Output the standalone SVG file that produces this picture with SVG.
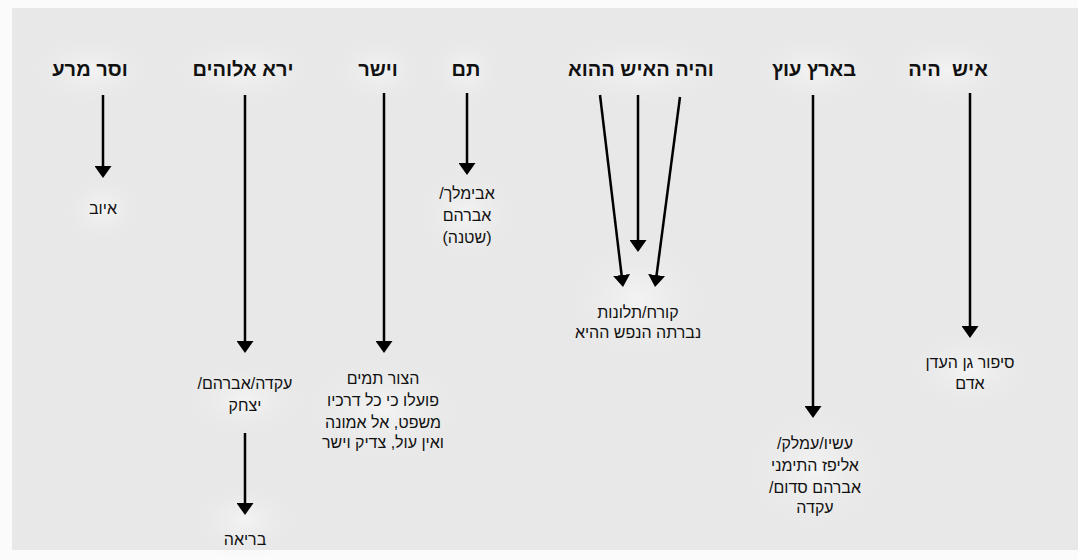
<svg xmlns="http://www.w3.org/2000/svg" width="1078" height="560" viewBox="0 0 1078 560">
<style>
.hd{font-family:"Liberation Sans","DejaVu Sans",sans-serif;font-size:20px;font-weight:bold;fill:#111;text-anchor:middle;direction:rtl}
.lb{font-family:"Liberation Sans","DejaVu Sans",sans-serif;font-size:16px;fill:#111;text-anchor:middle;direction:rtl}
.ar{stroke:#000;stroke-width:2.5;fill:none;marker-end:url(#ah)}
</style>
<defs>
<marker id="ah" viewBox="0 0 12 17" refX="6" refY="8.5" markerWidth="12" markerHeight="17" markerUnits="userSpaceOnUse" orient="auto">
<path d="M0,0 L12,8.5 L0,17 z" fill="#000"/>
</marker>
<radialGradient id="gl" cx="0.5" cy="0.5" r="0.5">
<stop offset="0" stop-color="#f8f8f8" stop-opacity="0.7"/>
<stop offset="1" stop-color="#e8e8e8" stop-opacity="0"/>
</radialGradient>
</defs>
<rect width="1078" height="560" fill="#fbfbfb"/>
<rect x="12" y="8" width="1066" height="542" fill="#e8e8e8"/>
<g id="glows">
<ellipse cx="90" cy="70" rx="70" ry="40" fill="url(#gl)"/>
<ellipse cx="243" cy="70" rx="80" ry="40" fill="url(#gl)"/>
<ellipse cx="378" cy="70" rx="50" ry="40" fill="url(#gl)"/>
<ellipse cx="466" cy="70" rx="40" ry="40" fill="url(#gl)"/>
<ellipse cx="641" cy="70" rx="100" ry="40" fill="url(#gl)"/>
<ellipse cx="814" cy="70" rx="70" ry="40" fill="url(#gl)"/>
<ellipse cx="948" cy="70" rx="70" ry="40" fill="url(#gl)"/>
<ellipse cx="103" cy="210" rx="45" ry="40" fill="url(#gl)"/>
<ellipse cx="467" cy="215" rx="55" ry="55" fill="url(#gl)"/>
<ellipse cx="638" cy="300" rx="80" ry="70" fill="url(#gl)"/>
<ellipse cx="383" cy="410" rx="90" ry="60" fill="url(#gl)"/>
<ellipse cx="245" cy="400" rx="70" ry="40" fill="url(#gl)"/>
<ellipse cx="245" cy="520" rx="60" ry="40" fill="url(#gl)"/>
<ellipse cx="815" cy="470" rx="80" ry="70" fill="url(#gl)"/>
<ellipse cx="970" cy="370" rx="70" ry="45" fill="url(#gl)"/>
</g>
<g id="connectors">
<line class="ar" x1="970" y1="93" x2="970" y2="332"/>
<line class="ar" x1="813" y1="95" x2="813" y2="412"/>
<line class="ar" x1="600" y1="95" x2="622.3" y2="281"/>
<line class="ar" x1="638" y1="95" x2="638" y2="246"/>
<line class="ar" x1="680" y1="97" x2="655.8" y2="281"/>
<line class="ar" x1="467" y1="93" x2="467" y2="169"/>
<line class="ar" x1="384" y1="93" x2="384" y2="347"/>
<line class="ar" x1="245" y1="95" x2="245" y2="347"/>
<line class="ar" x1="245" y1="433" x2="245" y2="509"/>
<line class="ar" x1="103" y1="95" x2="103" y2="172"/>
</g>
<g id="n-ish-haya"><text class="hd" x="948" y="76" style="white-space:pre" xml:space="preserve">איש  היה</text></g>
<g id="n-beeretz-utz"><text class="hd" x="814" y="76">בארץ עוץ</text></g>
<g id="n-vehaya"><text class="hd" x="641" y="76">והיה האיש ההוא</text></g>
<g id="n-tam"><text class="hd" x="466" y="76">תם</text></g>
<g id="n-veyashar"><text class="hd" x="378" y="76">וישר</text></g>
<g id="n-yere"><text class="hd" x="243" y="76">ירא אלוהים</text></g>
<g id="n-vesar"><text class="hd" x="90" y="76">וסר מרע</text></g>
<g id="n-adam"><text class="lb" x="970" y="368">סיפור גן העדן</text><text class="lb" x="970" y="389">אדם</text></g>
<g id="n-esav"><text class="lb" x="815" y="449">עשיו/עמלק/</text><text class="lb" x="815" y="471">אליפז התימני</text><text class="lb" x="815" y="493">אברהם סדום/</text><text class="lb" x="815" y="513">עקדה</text></g>
<g id="n-korach"><text class="lb" x="638" y="318">קורח/תלונות</text><text class="lb" x="638" y="338">נברתה הנפש ההיא</text></g>
<g id="n-avimelech"><text class="lb" x="467" y="199">אבימלך/</text><text class="lb" x="467" y="221">אברהם</text><text class="lb" x="467" y="243">(שטנה)</text></g>
<g id="n-hatzur"><text class="lb" x="383" y="384">הצור תמים</text><text class="lb" x="383" y="406">פועלו כי כל דרכיו</text><text class="lb" x="383" y="428">משפט, אל אמונה</text><text class="lb" x="383" y="448">ואין עול, צדיק וישר</text></g>
<g id="n-akeda"><text class="lb" x="245" y="389">עקדה/אברהם/</text><text class="lb" x="245" y="411">יצחק</text></g>
<g id="n-beria"><text class="lb" x="245" y="545">בריאה</text></g>
<g id="n-iyov"><text class="lb" x="103" y="214">איוב</text></g>
</svg>
